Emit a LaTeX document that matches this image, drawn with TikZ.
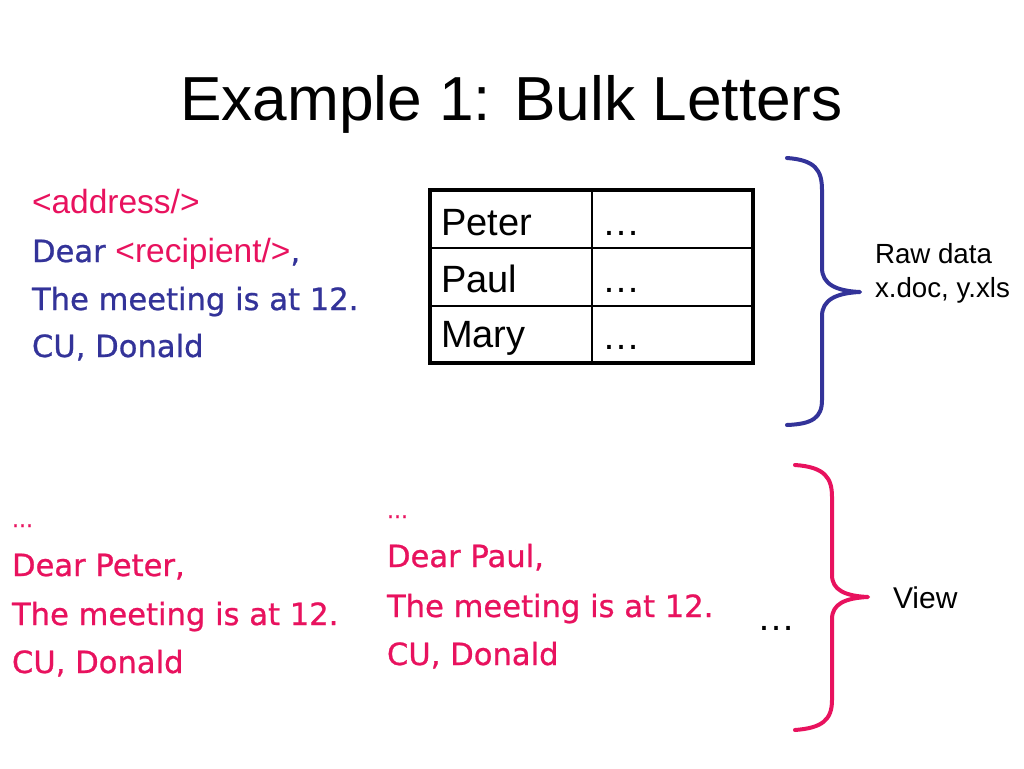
\documentclass[tikz,border=0pt]{standalone}
\usepackage{fontspec}
\setmainfont{Liberation Sans}
\newfontfamily\letterfont[FakeBold=0.8]{DejaVu Sans}
\definecolor{lpink}{RGB}{232,18,94}
\definecolor{lnavy}{RGB}{51,51,153}
\begin{document}
\begin{tikzpicture}[x=1pt,y=-1pt,
  every node/.style={inner sep=0pt,outer sep=0pt},
  lline/.style={anchor=base west,font=\letterfont\fontsize{30.6}{36}\selectfont},
  tagtext/.style={anchor=base west,font=\fontsize{33.5}{38}\selectfont},
  small/.style={anchor=base west,font=\letterfont\fontsize{22}{26}\selectfont},
  cell/.style={anchor=base west,font=\fontsize{38}{44}\selectfont},
  lbl/.style={anchor=base west,font=\fontsize{27.7}{32}\selectfont},
  brace/.style={line width=4pt,line cap=round,line join=round}]
\useasboundingbox (0,0) rectangle (1024,768);
% title
\node[anchor=base,font=\fontsize{62.2}{70}\selectfont] (title) at (511.5,120) {Example 1: Bulk Letters};
% template letter
\node[tagtext,text=lpink] (t1) at (32,213) {<address/>};
\node[lline,text=lnavy] (t2) at (32,262) {Dear \textcolor{lpink}{\normalfont\fontsize{33.5}{38}\selectfont <recipient/>},};
\node[lline,text=lnavy] (t3) at (32,310) {The meeting is at 12.};
\node[lline,text=lnavy] (t4) at (32,357) {CU, Donald};
% table
\draw[line width=2pt] (592,190) -- (592,363);
\draw[line width=2pt] (430,248) -- (753,248);
\draw[line width=2pt] (430,306) -- (753,306);
\draw[line width=3.5pt] (430,190) rectangle (753,363);
\node[cell] (c11) at (441,235) {Peter};
\node[cell] (c21) at (441,292) {Paul};
\node[cell] (c31) at (441,347) {Mary};
\node[cell] (c12) at (602,235) {…};
\node[cell] (c22) at (602,292) {…};
\node[cell] (c32) at (602,349) {…};
% blue brace
\draw[brace,lnavy] (787,158) .. controls (815,160) and (822,170) .. (822,190) -- (822,268) .. controls (822,284) and (836,291) .. (860,292) .. controls (836,293) and (822,300) .. (822,316) -- (822,400) .. controls (822,418) and (812,424) .. (787,425);
\node[lbl] (raw1) at (875,263) {Raw data};
\node[lbl] (raw2) at (875,297) {x.doc, y.xls};
% generated letters
\node[small,text=lpink] (a0) at (12,527) {...};
\node[lline,text=lpink] (a1) at (12,576) {Dear Peter,};
\node[lline,text=lpink] (a2) at (12,625) {The meeting is at 12.};
\node[lline,text=lpink] (a3) at (12,673) {CU, Donald};
\node[small,text=lpink] (b0) at (387,518) {...};
\node[lline,text=lpink] (b1) at (387,567) {Dear Paul,};
\node[lline,text=lpink] (b2) at (387,617) {The meeting is at 12.};
\node[lline,text=lpink] (b3) at (387,665) {CU, Donald};
\node[cell] (dots) at (757,630) {…};
% pink brace
\draw[brace,lpink] (795,465) .. controls (825,467) and (832,478) .. (832,497) -- (832,575) .. controls (832,590) and (845,596) .. (868,597) .. controls (845,598) and (832,604) .. (832,619) -- (832,700) .. controls (832,720) and (822,728) .. (795,730);
\node[lbl,font=\fontsize{30}{34}\selectfont] (view) at (893,608) {View};
\end{tikzpicture}
\end{document}
